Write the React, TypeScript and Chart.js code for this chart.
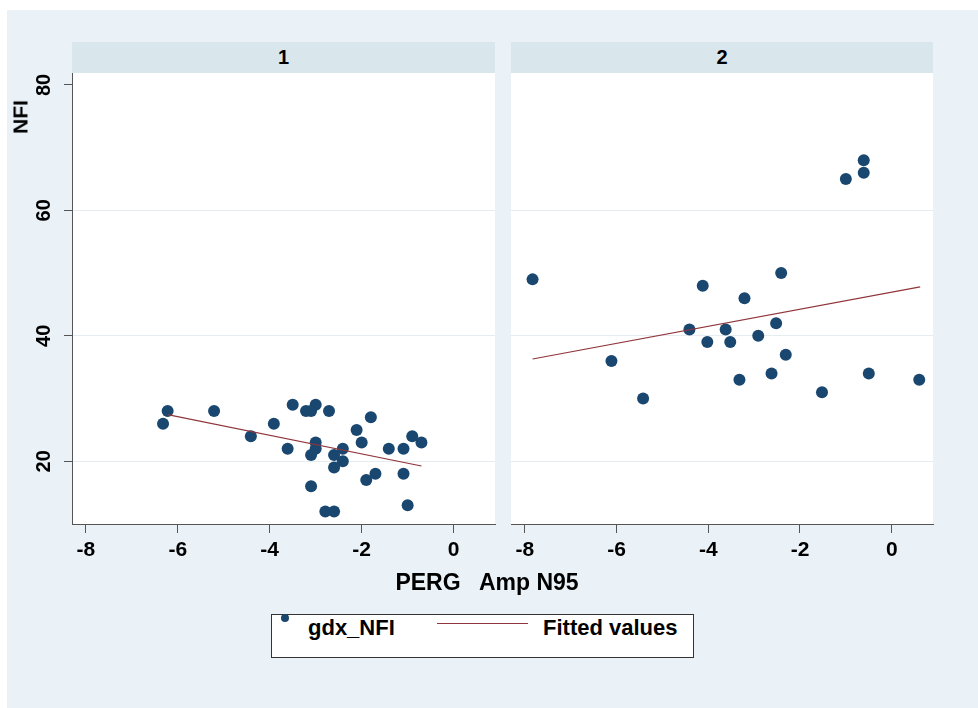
import React, { useEffect, useRef } from "react";
import { Chart, registerables } from "chart.js";

Chart.register(...registerables);

// ---- data ----
const panelLabels = ["1", "2"];

const panel1X = [-6.22, -6.32, -5.21, -4.41, -3.91, -3.5, -3.61, -3.21, -3.1, -3.0, -2.71, -3.0, -3.0, -3.1, -3.1, -2.6, -2.41, -2.41, -2.6, -2.79, -2.6, -2.11, -2.0, -1.8, -1.9, -1.7, -1.41, -1.09, -1.09, -1.0, -0.9, -0.7];
const panel1Y = [28, 26, 28, 24, 26, 29, 22, 28, 28, 29, 28, 23, 22, 21, 16, 21, 22, 20, 19, 12, 12, 25, 23, 27, 17, 18, 22, 22, 18, 13, 24, 23];

const panel2X = [-7.83, -6.11, -5.42, -4.41, -4.12, -4.02, -3.62, -3.52, -3.32, -3.21, -2.91, -2.62, -2.52, -2.41, -2.31, -1.52, -1.0, -0.61, -0.61, -0.5, 0.6];
const panel2Y = [49, 36, 30, 41, 48, 39, 41, 39, 33, 46, 40, 34, 42, 50, 37, 31, 65, 68, 66, 34, 33];

const fit1X = [-6.22, -0.7];
const fit1Y = [27.45, 19.25];
const fit2X = [-7.83, 0.62];
const fit2Y = [36.3, 47.8];

const xTicks = [-8, -6, -4, -2, 0];
const xTickLabels = ["-8", "-6", "-4", "-2", "0"];
const yTicks = [20, 40, 60, 80];
const yTickLabels = ["20", "40", "60", "80"];

const xTitle = "PERG   Amp N95";
const yTitle = "NFI";
const seriesNames = ["gdx_NFI", "Fitted values"];

// ---- styles ----
const FONT = '"Liberation Sans", Arial, Helvetica, sans-serif';
const MARKER = "#1a476f";
const FITLINE = "#90353b";
const OUTER_BG = "#eaf2f8";
const STRIP_BG = "#d9e6ec";
const GRID = "#e6edf1";
const AXIS = "#555555";

type PanelProps = {
  xs: number[];
  ys: number[];
  fx: number[];
  fy: number[];
  first: boolean;
  left: number;
  width: number;
  yAxisWidth: number;
  rightPad: number;
};

function Panel({ xs, ys, fx, fy, first, left, width, yAxisWidth, rightPad }: PanelProps) {
  const ref = useRef<HTMLCanvasElement>(null);
  useEffect(() => {
    const canvas = ref.current!;
    const bgPlugin = {
      id: "plotbg",
      beforeDraw(chart: any) {
        const { ctx, chartArea } = chart;
        ctx.save();
        ctx.fillStyle = "#ffffff";
        ctx.fillRect(chartArea.left, chartArea.top, chartArea.right - chartArea.left, chartArea.bottom - chartArea.top);
        ctx.restore();
      },
    };
    const yLabelPlugin = {
      id: "ylabels",
      afterDraw(chart: any) {
        if (!first) return;
        const { ctx } = chart;
        const ys = chart.scales.y;
        ctx.save();
        ctx.font = `bold 20px ${FONT}`;
        ctx.fillStyle = "#000";
        ctx.textAlign = "center";
        ctx.textBaseline = "middle";
        yTicks.forEach((v, i) => {
          const py = ys.getPixelForValue(v);
          ctx.save();
          ctx.translate(44, py);
          ctx.rotate(-Math.PI / 2);
          ctx.fillText(yTickLabels[i], 0, 0);
          ctx.restore();
        });
        ctx.restore();
      },
    };
    const chart = new Chart(canvas, {
      type: "scatter",
      data: {
        datasets: [
          {
            type: "line",
            label: seriesNames[1],
            data: fx.map((x, i) => ({ x, y: fy[i] })),
            borderColor: FITLINE,
            borderWidth: 1.2,
            pointRadius: 0,
            fill: false,
            tension: 0,
          } as any,
          {
            label: seriesNames[0],
            data: xs.map((x, i) => ({ x, y: ys[i] })),
            backgroundColor: MARKER,
            borderWidth: 0,
            pointRadius: 6,
            pointHoverRadius: 6,
          },
        ],
      },
      options: {
        responsive: false,
        animation: false,
        events: [],
        layout: { autoPadding: false, padding: { left: 0, right: rightPad, top: 0, bottom: 0 } },
        plugins: { legend: { display: false }, tooltip: { enabled: false } },
        scales: {
          x: {
            type: "linear",
            min: -8.3,
            max: 0.9,
            afterBuildTicks: (s: any) => {
              s.ticks = xTicks.map((v) => ({ value: v }));
            },
            afterFit: (s: any) => {
              s.height = 49;
            },
            grid: { drawOnChartArea: false, drawTicks: true, tickLength: 9, tickColor: AXIS, tickWidth: 1 },
            border: { display: true, color: AXIS, width: 1 },
            ticks: {
              color: "#000",
              font: { family: FONT, size: 21, weight: "bold" },
              padding: 5,
              maxRotation: 0,
              minRotation: 0,
              autoSkip: false,
              callback: (v: any) => {
                const i = xTicks.indexOf(Number(v));
                return i >= 0 ? xTickLabels[i] : "";
              },
            },
          },
          y: {
            type: "linear",
            min: 10,
            max: 81.9,
            afterBuildTicks: (s: any) => {
              s.ticks = yTicks.map((v) => ({ value: v }));
            },
            afterFit: (s: any) => {
              s.width = yAxisWidth;
            },
            grid: {
              color: (c: any) => (c.tick && c.tick.value === 80 ? "rgba(0,0,0,0)" : GRID),
              lineWidth: 1,
              drawTicks: first,
              tickLength: 8,
              tickColor: AXIS,
            },
            border: { display: first, color: AXIS, width: 1 },
            ticks: { display: false },
          },
        },
      } as any,
      plugins: [bgPlugin, yLabelPlugin],
    });
    return () => chart.destroy();
  }, []);
  return (
    <canvas
      ref={ref}
      width={width}
      height={500}
      style={{ position: "absolute", left, top: 73, width, height: 500 }}
    />
  );
}

export default function App() {
  const textBase: React.CSSProperties = {
    position: "absolute",
    fontFamily: FONT,
    fontWeight: "bold",
    color: "#000",
    whiteSpace: "pre",
  };
  return (
    <div style={{ position: "absolute", left: 0, top: 0, width: 978, height: 708, background: "#fff", overflow: "hidden" }}>
      <div style={{ position: "absolute", left: 7, top: 10, right: 0, bottom: 0, background: OUTER_BG }} />
      {/* strip headers */}
      <div style={{ ...textBase, left: 72, top: 42, width: 423, height: 31, background: STRIP_BG, textAlign: "center", fontSize: 20, lineHeight: "31px" }}>
        {panelLabels[0]}
      </div>
      <div style={{ ...textBase, left: 511, top: 42, width: 422, height: 31, background: STRIP_BG, textAlign: "center", fontSize: 20, lineHeight: "31px" }}>
        {panelLabels[1]}
      </div>
      <Panel xs={panel1X} ys={panel1Y} fx={fit1X} fy={fit1Y} first={true} left={0} width={500} yAxisWidth={72} rightPad={5} />
      <Panel xs={panel2X} ys={panel2Y} fx={fit2X} fy={fit2Y} first={false} left={500} width={478} yAxisWidth={11} rightPad={45} />
      {/* y title */}
      <div style={{ ...textBase, left: 20, top: 117, fontSize: 21, lineHeight: "21px", transform: "translate(-50%, -50%) rotate(-90deg)" }}>
        {yTitle}
      </div>
      {/* x title */}
      <div style={{ ...textBase, left: 487, top: 571, fontSize: 23, lineHeight: "23px", transform: "translateX(-50%)" }}>
        {xTitle}
      </div>
      {/* legend */}
      <div style={{ position: "absolute", left: 271, top: 614, width: 423, height: 44, boxSizing: "border-box", border: "1px solid #333", background: "#fff" }} />
      <div style={{ position: "absolute", left: 281, top: 614, width: 8, height: 8, borderRadius: "50%", background: MARKER }} />
      <div style={{ ...textBase, left: 308, top: 617, fontSize: 22, lineHeight: "22px" }}>{seriesNames[0]}</div>
      <div style={{ position: "absolute", left: 437, top: 623, width: 91, height: 1, background: FITLINE }} />
      <div style={{ ...textBase, left: 543, top: 617, fontSize: 22, lineHeight: "22px" }}>{seriesNames[1]}</div>
    </div>
  );
}
